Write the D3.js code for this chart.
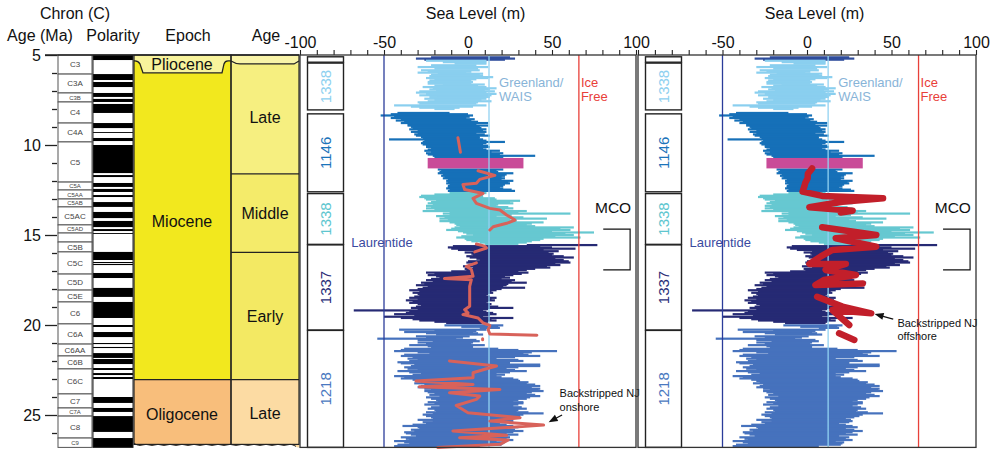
<!DOCTYPE html>
<html>
<head>
<meta charset="utf-8">
<script src="https://cdn.jsdelivr.net/npm/d3@7"></script>
<style>
  body { margin: 0; background: #fff; }
  svg { font-family: "Liberation Sans", Arial, sans-serif; }
</style>
</head>
<body>
<svg id="chart" width="995" height="449"></svg>
<script>
// ---- data (ages in Ma, sea level in m) ----

const chrons = [
  ["C3", 5.0, 6.06], ["C3A", 6.06, 7.11], ["C3B", 7.11, 7.61], ["C4", 7.61, 8.78],
  ["C4A", 8.78, 9.83], ["C5", 9.83, 12.06], ["C5A", 12.06, 12.5], ["C5AA", 12.5, 13.0],
  ["C5AB", 13.0, 13.44], ["C5AC", 13.44, 14.44], ["C5AD", 14.44, 14.89], ["", 14.89, 15.39],
  ["C5B", 15.39, 15.94], ["C5C", 15.94, 17.17], ["C5D", 17.17, 18.06], ["C5E", 18.06, 18.72],
  ["C6", 18.72, 19.94], ["C6A", 19.94, 21.06], ["C6AA", 21.06, 21.72], ["C6B", 21.72, 22.44],
  ["C6C", 22.44, 23.83], ["C7", 23.83, 24.61], ["C7A", 24.61, 25.06], ["C8", 25.06, 26.28],
  ["C9", 26.28, 26.8]
];

// normal polarity intervals (black)
const normalPolarity = [
  [5.0, 5.28], [6.06, 6.39], [6.5, 6.78], [7.11, 7.33], [7.44, 7.61], [7.72, 8.22],
  [8.78, 9.06], [9.28, 9.33], [9.61, 9.78], [10.0, 11.56], [11.67, 11.78], [12.11, 12.33],
  [12.44, 12.61], [12.78, 12.89], [13.17, 13.44], [13.72, 14.06], [14.22, 14.56],
  [14.67, 14.78], [14.89, 14.94], [15.94, 16.39], [16.5, 16.56], [16.61, 16.67],
  [17.11, 17.39], [17.94, 18.44], [18.72, 19.61], [20.0, 20.11], [20.39, 20.67],
  [21.0, 21.06], [21.22, 21.28], [21.56, 21.83], [21.89, 22.17], [22.39, 22.5],
  [22.67, 22.78], [22.89, 23.0], [24.0, 24.33], [24.61, 24.83], [25.06, 25.94], [26.28, 26.8]
];

const epochs = [
  { name: "Miocene", from: 5.33, to: 23.03, color: "#f2e81e" },
  { name: "Oligocene", from: 23.03, to: 26.8, color: "#f8be7b" }
];

const stages = [
  { name: "Late", from: 5.33, to: 11.6, color: "#f6ef80" },
  { name: "Middle", from: 11.6, to: 15.97, color: "#f4eb6a" },
  { name: "Early", from: 15.97, to: 23.03, color: "#f3e963" },
  { name: "Late", from: 23.03, to: 26.8, color: "#fcdba3" }
];

const sites = [
  { name: "", from: 5.1, to: 5.4, color: "#333" },
  { name: "1338", from: 5.45, to: 8.05, color: "#8ed0f0" },
  { name: "1146", from: 8.27, to: 12.6, color: "#1b74ba" },
  { name: "1338", from: 12.7, to: 15.52, color: "#5ec6cf" },
  { name: "1337", from: 15.55, to: 20.28, color: "#2b2f79" },
  { name: "1218", from: 20.3, to: 26.8, color: "#4a78c0" }
];

// sea level ranges: [age, low, high]
const topBars = [[5.13, -22, 25], [5.2, -31, 28], [5.26, -26, 22]];

const site1338a = [
  [5.32, -25, 11], [5.4, -15, 11], [5.48, -8, 11], [5.57, -22, 5], [5.67, -30, 12],
  [5.76, -20, 6], [5.85, -28, 7], [5.93, -24, 2], [5.98, -30, -1], [6.04, -18, 9],
  [6.09, -22, 7], [6.17, -23, 9], [6.23, -18, 15], [6.28, -25, 12], [6.35, -20, 5],
  [6.41, -23, 2], [6.5, -24, 3], [6.59, -24, 2], [6.64, -15, 10], [6.69, -20, 6],
  [6.78, -27, 11], [6.85, -21, 17], [6.91, -23, 13], [6.97, -19, 10], [7.02, -29, 16],
  [7.09, -31, 11], [7.16, -25, 17], [7.24, -29, 14], [7.33, -23, 13], [7.38, -18, 10],
  [7.43, -26, 11], [7.5, -20, 8], [7.57, -24, 14], [7.63, -30, 6], [7.7, -29, 5],
  [7.8, -44, 11], [7.87, -34, 3], [7.93, -29, -5], [8.0, -20, -8]
];

const site1146 = [
  [8.22, -42, -11], [8.29, -46, 0], [8.36, -52, 3], [8.43, -44, 1], [8.5, -46, -1],
  [8.57, -40, 4], [8.64, -43, 2], [8.71, -38, 6], [8.78, -40, 12], [8.85, -36, 5],
  [8.92, -36, 12], [8.99, -34, 7], [9.06, -33, 8], [9.13, -35, 11], [9.2, -30, 9],
  [9.27, -34, 11], [9.34, -30, 5], [9.41, -32, 10], [9.48, -31, 13], [9.55, -28, 7],
  [9.62, -27, 7], [9.69, -47, 9], [9.76, -26, 11], [9.83, -27, 22], [9.9, -28, 11],
  [9.97, -27, 9], [10.04, -25, 12], [10.11, -25, 13], [10.18, -22, 9], [10.25, -24, 11],
  [10.32, -26, 19], [10.39, -22, 14], [10.46, -25, 21], [10.53, -24, 19], [10.6, -21, 40],
  [10.67, -20, 21], [11.36, -18, 21], [11.43, -16, 17], [11.5, -17, 18], [11.57, -18, 27],
  [11.64, -15, 23], [11.71, -16, 22], [11.78, -14, 20], [11.85, -15, 22], [11.92, -12, 20],
  [11.99, -13, 27], [12.06, -12, 24], [12.13, -13, 25], [12.2, -11, 22], [12.27, -12, 21],
  [12.34, -12, 19], [12.41, -13, 21], [12.48, -11, 26], [12.55, -12, 28]
];

const site1338b = [
  [12.67, -11, 11], [12.75, -20, 7], [12.82, -28, 9], [12.89, -29, 9], [12.96, -26, 16],
  [13.03, -25, 17], [13.1, -19, 31], [13.17, -22, 25], [13.24, -24, 27], [13.31, -21, 18],
  [13.38, -25, 17], [13.45, -22, 24], [13.52, -25, 27], [13.6, -20, 22], [13.67, -27, 35],
  [13.74, -11, 30], [13.81, -15, 61], [13.88, -11, 26], [13.95, -19, 17], [14.02, -14, 33],
  [14.09, -17, 47], [14.16, -12, 25], [14.23, -17, 29], [14.3, -11, 45], [14.37, -8, 38],
  [14.44, -7, 35], [14.51, -5, 40], [14.58, -8, 63], [14.65, -10, 55], [14.72, -13, 61],
  [14.79, -6, 50], [14.86, -3, 75], [14.93, -1, 58], [15.0, 3, 63], [15.07, -4, 52],
  [15.14, -7, 67], [15.21, -2, 45], [15.28, -1, 43], [15.35, 2, 38], [15.42, 7, 35],
  [15.49, 10, 30]
];

const site1337 = [
  [15.56, 35, 77], [15.62, -9, 43], [15.69, -12, 50], [15.76, -10, 64], [15.83, -6, 45],
  [15.9, 3, 54], [15.97, -2, 48], [16.04, 2, 51], [16.11, 3, 50], [16.18, -1, 57],
  [16.25, 1, 63], [16.32, 5, 52], [16.39, 7, 57], [16.46, 0, 60], [16.53, -1, 61],
  [16.6, 3, 52], [16.67, 3, 55], [16.74, -3, 47], [16.81, 3, 49], [16.88, -2, 40],
  [16.95, -1, 35], [17.02, -10, 30], [17.09, -25, 36], [17.16, -20, 32], [17.23, -24, 27],
  [17.3, -19, 22], [17.37, -17, 25], [17.44, -22, 20], [17.51, -25, 28], [17.58, -21, 26],
  [17.65, -28, 35], [17.72, -26, 24], [17.79, -31, 23], [17.86, -24, 21], [17.93, -27, 34],
  [18.0, -30, 20], [18.07, -35, 17], [18.14, -29, 14], [18.21, -33, 15], [18.28, -30, 12],
  [18.35, -29, 11], [18.42, -32, 13], [18.49, -35, 17], [18.56, -30, 14], [18.63, -37, 16],
  [18.7, -33, 12], [18.77, -35, 11], [18.84, -30, 14], [18.91, -28, 13], [18.98, -31, 18],
  [19.05, -34, 27], [19.12, -30, 12], [19.19, -68, 9], [19.26, -35, 11], [19.33, -37, 15],
  [19.4, -44, 17], [19.47, -32, 13], [19.54, -50, 9], [19.61, -40, 27], [19.68, -33, 14],
  [19.75, -29, 17], [19.82, -20, 12], [19.89, -13, 11]
];

const site1218 = [
  [20.02, -14, 21], [20.1, -4, 18], [20.16, 7, 19], [20.26, -41, 11], [20.33, -20, 5],
  [20.39, -38, 3], [20.46, -25, 6], [20.53, -19, 9], [20.63, -31, 1], [20.7, -25, -3],
  [20.76, -54, -7], [20.83, -30, 5], [20.9, -21, 7], [20.97, -30, 3], [21.05, -25, 2],
  [21.12, -35, 10], [21.18, -24, 3], [21.26, -22, 3], [21.32, -38, 18], [21.39, -40, 30],
  [21.45, -44, 53], [21.52, -30, 38], [21.58, -23, 33], [21.65, -38, 36], [21.72, -40, 43],
  [21.79, -33, 28], [21.87, -36, 17], [21.94, -30, 30], [22.0, -35, 33], [22.07, -42, 25],
  [22.13, -40, 25], [22.2, -32, 43], [22.28, -34, 43], [22.35, -38, 30], [22.43, -36, 23],
  [22.5, -30, 28], [22.56, -42, 35], [22.63, -35, 25], [22.69, -28, 17], [22.76, -33, 22],
  [22.84, -44, 17], [22.9, -38, 20], [22.97, -40, 27], [23.04, -33, 30], [23.11, -30, 31],
  [23.18, -28, 36], [23.24, -32, 35], [23.31, -26, 40], [23.39, -28, 43], [23.46, -30, 38],
  [23.54, -26, 43], [23.6, -22, 42], [23.67, -26, 45], [23.74, -24, 38], [23.8, -20, 35],
  [23.88, -23, 40], [23.95, -17, 43], [24.02, -25, 37], [24.1, -22, 35], [24.16, -19, 30],
  [24.22, -18, 27], [24.29, -24, 33], [24.35, -20, 33], [24.42, -26, 30], [24.5, -17, 27],
  [24.57, -22, 32], [24.65, -24, 35], [24.72, -20, 30], [24.78, -19, 29], [24.85, -25, 36],
  [24.91, -21, 45], [24.98, -27, 33], [25.06, -25, 31], [25.13, -22, 28], [25.2, -21, 23],
  [25.27, -30, 26], [25.34, -21, 27], [25.4, -27, 25], [25.47, -25, 19], [25.54, -33, 23],
  [25.61, -39, 27], [25.68, -30, 30], [25.76, -29, 23], [25.82, -34, 28], [25.89, -32, 33],
  [25.96, -38, 27], [26.02, -37, 23], [26.09, -34, 30], [26.17, -31, 19], [26.24, -40, 25],
  [26.32, -37, 23], [26.39, -35, 27], [26.45, -44, 17], [26.52, -38, 22], [26.58, -35, 21],
  [26.65, -42, 20], [26.73, -44, 7]
];

const barSeries = [
  { data: topBars, color: "#2f4d9c" },
  { data: site1338a, color: "#8acfef" },
  { data: site1146, color: "#1670b8" },
  { data: site1338b, color: "#66c8d1" },
  { data: site1337, color: "#262a74" },
  { data: site1218, color: "#4672bd" }
];

// magenta band [ageFrom, ageTo, low, high]
const magentaBand = [10.72, 11.3, -24, 33];

// NJ records: [age, sea level]; null marks a gap
const njOnshore = [
  [9.6, -6], [10.4, -4.5], [10.5, null],
  [11.43, 6], [11.69, 16], [11.91, 7], [12.13, 5], [12.19, -3], [12.47, -2], [12.69, 9],
  [12.97, 3], [13.24, 5], [13.52, 13], [13.61, 19], [13.89, 23], [14.17, 28], [14.35, 23],
  [14.54, 15], [14.72, 13], [14.8, null],
  [15.5, 5], [15.62, 10], [15.72, 11], [15.94, 4], [16.2, null],
  [16.55, 5], [16.74, -1], [16.92, 2], [17.29, 3], [17.42, -14], [17.48, 2], [17.85, 1],
  [18.96, 1], [19.15, -2], [19.33, 0], [19.42, -3], [19.61, 6], [19.89, 9], [20.02, 13],
  [20.26, 12], [20.5, 13], [20.57, 41], [20.7, null],
  [20.76, 8.7], [20.82, 8.7], [21.0, null],
  [22.0, -11], [22.28, 17], [22.43, 11], [22.65, 3], [22.93, 3], [23.11, -31], [23.3, 3],
  [23.43, -29], [23.58, 19], [23.76, -11], [23.95, 7], [24.13, 5], [24.47, -7], [24.87, 0],
  [25.15, 31], [25.34, 13], [25.56, 45], [25.89, -9], [26.13, 23], [26.26, -5], [26.39, 24],
  [26.63, 19], [26.8, -18]
];

const njOffshore = [
  [11.3, 3], [11.6, 0.5], [11.85, 0.4], [12.1, -1], [12.31, -1.6], [12.59, -2.6],
  [12.83, 9], [12.96, 45], [13.15, 21], [13.46, 1.4], [13.65, 27], [13.75, 20], [13.9, null],
  [14.57, 9], [15.0, 41], [15.18, 17], [15.65, 41], [15.83, 15], [16.2, 8], [16.61, 1.4],
  [16.61, 23], [16.94, 11], [17.22, 29], [17.5, 10], [17.78, 5], [17.69, 33], [17.9, null],
  [18.43, 6], [18.98, 21], [19.35, 38], [19.17, 15], [20.0, 25], [20.1, null],
  [20.46, 19], [20.83, 28]
];

const refLines = [
  { value: -50, color: "#2b3c9a" },
  { value: 12.5, color: "#92d2f1" },
  { value: 66, color: "#e8403a" }
];

// ---- layout ----
const svg = d3.select("#chart");
const y = d3.scaleLinear().domain([5, 26.8]).range([55, 447.4]);
const yTop = 55, yBot = 447.4;
const col = { chron: [58, 92], pol: [93, 133], epoch: [134, 231], stage: [231, 299] };

// header text
const header = svg.append("g").style("font-size", "16px").attr("fill", "#111");
header.append("text").attr("x", 75).attr("y", 19).attr("text-anchor", "middle").text("Chron (C)");
header.append("text").attr("x", 40).attr("y", 41).attr("text-anchor", "middle").text("Age (Ma)");
header.append("text").attr("x", 113).attr("y", 41).attr("text-anchor", "middle").text("Polarity");
header.append("text").attr("x", 188).attr("y", 41).attr("text-anchor", "middle").text("Epoch");
header.append("text").attr("x", 266).attr("y", 41).attr("text-anchor", "middle").text("Age");

// age axis
const ageMajor = svg.append("g").attr("transform", "translate(57,0)")
  .call(d3.axisLeft(y).tickValues([5, 10, 15, 20, 25]).tickSize(12).tickPadding(4).tickFormat(d => String(d)));
ageMajor.select(".domain").remove();
ageMajor.selectAll("text").style("font-size", "16px").style("font-family", "Liberation Sans, Arial").attr("fill", "#111");
ageMajor.selectAll("line").attr("stroke", "#222").attr("stroke-width", 1.3);
const ageMinor = svg.append("g").attr("transform", "translate(57,0)")
  .call(d3.axisLeft(y).tickValues(d3.range(6, 27).filter(d => d % 5 !== 0)).tickSize(5).tickFormat(""));
ageMinor.select(".domain").remove();
ageMinor.selectAll("line").attr("stroke", "#222").attr("stroke-width", 1.3);

// chron column
const chronG = svg.append("g");
chronG.selectAll("rect").data(chrons).join("rect")
  .attr("x", col.chron[0]).attr("width", col.chron[1] - col.chron[0])
  .attr("y", d => y(d[1])).attr("height", d => y(d[2]) - y(d[1]))
  .attr("fill", "#fff").attr("stroke", "#555").attr("stroke-width", 1);
chronG.selectAll("text").data(chrons).join("text")
  .attr("x", (col.chron[0] + col.chron[1]) / 2)
  .attr("y", d => (y(d[1]) + y(d[2])) / 2)
  .attr("dy", "0.35em").attr("text-anchor", "middle")
  .style("font-size", d => (y(d[2]) - y(d[1]) < 9.5 ? "6px" : "8px"))
  .attr("fill", "#444").text(d => d[0]);

// polarity column
const polG = svg.append("g");
polG.append("rect").attr("x", col.pol[0]).attr("y", yTop).attr("width", col.pol[1] - col.pol[0])
  .attr("height", yBot - yTop).attr("fill", "#fff");
polG.selectAll("rect.n").data(normalPolarity).join("rect").attr("class", "n")
  .attr("x", col.pol[0]).attr("width", col.pol[1] - col.pol[0])
  .attr("y", d => y(d[0])).attr("height", d => y(d[1]) - y(d[0])).attr("fill", "#000");
polG.append("rect").attr("x", col.pol[0]).attr("y", yTop).attr("width", col.pol[1] - col.pol[0])
  .attr("height", yBot - yTop).attr("fill", "none").attr("stroke", "#222");

// epoch column
const epG = svg.append("g");
epG.selectAll("rect").data(epochs).join("rect")
  .attr("x", col.epoch[0]).attr("width", col.epoch[1] - col.epoch[0])
  .attr("y", d => (d.name === "Miocene" ? yTop : y(d.from))).attr("height", d => y(d.to) - (d.name === "Miocene" ? yTop : y(d.from)))
  .attr("fill", d => d.color);
const pb = y(5.33), pt = pb + 12;
epG.append("path")
  .attr("d", `M${col.epoch[0]},${yTop}H${col.epoch[1]}V${pb}H${col.epoch[1] - 3}Q${col.epoch[1] - 6},${pb} ${col.epoch[1] - 7},${pb + 3}L${col.epoch[1] - 9},${pt}H${col.epoch[0] + 9}L${col.epoch[0] + 6},${pb + 3}Q${col.epoch[0] + 4},${pb} ${col.epoch[0] + 1},${pb}H${col.epoch[0]}Z`)
  .attr("fill", "#f8f39c");
epG.append("path")
  .attr("d", `M${col.epoch[0]},${pb}H${col.epoch[0] + 1}Q${col.epoch[0] + 4},${pb} ${col.epoch[0] + 6},${pb + 3}L${col.epoch[0] + 9},${pt}H${col.epoch[1] - 9}L${col.epoch[1] - 7},${pb + 3}Q${col.epoch[1] - 6},${pb} ${col.epoch[1] - 3},${pb}H${col.epoch[1]}`)
  .attr("fill", "none").attr("stroke", "#222").attr("stroke-width", 1.3);
epG.append("line").attr("x1", col.epoch[0]).attr("x2", col.epoch[1])
  .attr("y1", y(23.03)).attr("y2", y(23.03)).attr("stroke", "#222").attr("stroke-width", 1.2);
epG.append("text").attr("x", 182).attr("y", pb + 9).attr("text-anchor", "middle")
  .style("font-size", "16px").attr("fill", "#111").text("Pliocene");
epG.selectAll("text.lab").data(epochs).join("text").attr("class", "lab")
  .attr("x", 182).attr("y", d => (d.name === "Miocene" ? y(14.2) + 6 : (y(d.from) + y(d.to)) / 2 + 7))
  .attr("text-anchor", "middle").style("font-size", "16px").attr("fill", "#111").text(d => d.name);

// stage column
const stG = svg.append("g");
stG.append("rect").attr("x", col.stage[0]).attr("y", yTop).attr("width", col.stage[1] - col.stage[0])
  .attr("height", y(5.33) + 4 - yTop).attr("fill", "#f9f4a8");
stG.selectAll("rect.s").data(stages).join("rect").attr("class", "s")
  .attr("x", col.stage[0]).attr("width", col.stage[1] - col.stage[0])
  .attr("y", d => (d.from === 5.33 ? pb + 3 : y(d.from))).attr("height", d => y(d.to) - (d.from === 5.33 ? pb + 3 : y(d.from)))
  .attr("fill", d => d.color);
stG.append("path")
  .attr("d", `M${col.stage[0]},${pb}Q${col.stage[0] + 5},${pb + 3} ${col.stage[0] + 9},${pb + 3}H${col.stage[1] - 5}L${col.stage[1]},${pb}`)
  .attr("fill", "none").attr("stroke", "#222").attr("stroke-width", 1.3);
stG.selectAll("line.b").data(stages.slice(1)).join("line").attr("class", "b")
  .attr("x1", col.stage[0]).attr("x2", col.stage[1]).attr("y1", d => y(d.from)).attr("y2", d => y(d.from))
  .attr("stroke", "#222").attr("stroke-width", 1.2);
stG.selectAll("text").data(stages).join("text")
  .attr("x", (col.stage[0] + col.stage[1]) / 2).attr("y", d => (y(d.from) + y(d.to)) / 2 + 6)
  .attr("text-anchor", "middle").style("font-size", "16px").attr("fill", "#111").text(d => d.name);

// wavy break at the bottom of epoch + stage columns
const wave = d3.range(col.epoch[0], col.stage[1] + 1, 6).map((xx, i) => [xx, yBot - 3 + (i % 2 ? 2 : -1)]);
svg.append("path")
  .attr("d", d3.line().curve(d3.curveBasis)(wave) + `L${col.stage[1]},${yBot + 2}L${col.epoch[0]},${yBot + 2}Z`)
  .attr("fill", "#fff");
svg.append("path").attr("d", d3.line().curve(d3.curveBasis)(wave))
  .attr("fill", "none").attr("stroke", "#222").attr("stroke-width", 1);

// column borders
[col.epoch, col.stage].forEach(c => {
  svg.append("rect").attr("x", c[0]).attr("y", yTop).attr("width", c[1] - c[0]).attr("height", yBot - 3 - yTop)
    .attr("fill", "none").attr("stroke", "#222").attr("stroke-width", 1.2);
});
svg.append("line").attr("x1", 45).attr("x2", col.stage[1]).attr("y1", yTop).attr("y2", yTop)
  .attr("stroke", "#222").attr("stroke-width", 1.3);

// ---- sea level panels ----
function drawPanel(x0, x1, nj, njStyle, showMinLabel, annot) {
  const x = d3.scaleLinear().domain([-100, 100]).range([x0, x1]);
  const g = svg.append("g");

  g.append("text").attr("x", x(4.5)).attr("y", 19).attr("text-anchor", "middle")
    .style("font-size", "16px").attr("fill", "#111").text("Sea Level (m)");

  const ax = g.append("g").attr("transform", `translate(0,${yTop})`)
    .call(d3.axisTop(x).tickValues(d3.range(-100, 101, 10)).tickSize(5).tickPadding(3)
      .tickFormat(d => (d % 50 === 0 && (showMinLabel || d > -100) ? String(d) : "")));
  ax.select(".domain").remove();
  ax.selectAll("line").attr("stroke", "#222").attr("stroke-width", 1.1);
  ax.selectAll("text").style("font-size", "16px").style("font-family", "Liberation Sans, Arial")
    .attr("fill", "#111").attr("dy", "0.05em");

  // bars
  barSeries.forEach(s => {
    g.append("g").selectAll("rect").data(s.data).join("rect")
      .attr("x", d => x(d[1])).attr("width", d => x(d[2]) - x(d[1]))
      .attr("y", d => y(d[0]) - 1.1).attr("height", 2.2)
      .attr("fill", s.color);
  });

  g.append("rect")
    .attr("x", x(magentaBand[2])).attr("width", x(magentaBand[3]) - x(magentaBand[2]))
    .attr("y", y(magentaBand[0])).attr("height", y(magentaBand[1]) - y(magentaBand[0]))
    .attr("fill", "#c94b98");

  // reference lines
  g.selectAll("line.ref").data(refLines).join("line").attr("class", "ref")
    .attr("x1", d => x(d.value)).attr("x2", d => x(d.value)).attr("y1", yTop).attr("y2", yBot)
    .attr("stroke", d => d.color).attr("stroke-width", 1.3);

  // NJ curve
  const line = d3.line().defined(d => d[1] !== null).x(d => x(d[1])).y(d => y(d[0]));
  g.append("path").datum(nj).attr("d", line)
    .attr("fill", "none").attr("stroke", njStyle.color).attr("stroke-width", njStyle.width)
    .attr("stroke-linejoin", "round").attr("stroke-linecap", "round");

  // site column
  const sx = x0 + 7.5, sw = 36;
  g.selectAll("rect.site").data(sites).join("rect").attr("class", "site")
    .attr("x", sx).attr("width", sw).attr("y", d => y(d.from)).attr("height", d => y(d.to) - y(d.from))
    .attr("fill", "#fff").attr("stroke", "#222").attr("stroke-width", 1.4);
  g.selectAll("text.site").data(sites.filter(d => d.name)).join("text").attr("class", "site")
    .attr("transform", d => `translate(${sx + sw / 2 + 5.5},${(y(d.from) + y(d.to)) / 2}) rotate(-90)`)
    .attr("text-anchor", "middle").style("font-size", "15px").attr("fill", d => d.color).text(d => d.name);

  // labels
  const lab = g.append("g").style("font-size", "13px");
  lab.append("text").attr("x", x(18.5)).attr("y", 87).attr("fill", "#88b4d8").text("Greenland/");
  lab.append("text").attr("x", x(18.5)).attr("y", 101).attr("fill", "#88b4d8").text("WAIS");
  lab.append("text").attr("x", x(66) + 2).attr("y", 87).attr("fill", "#e8403a").text("Ice");
  lab.append("text").attr("x", x(66) + 2).attr("y", 101).attr("fill", "#e8403a").text("Free");
  lab.append("text").attr("x", x(-69.5)).attr("y", 247).attr("fill", "#3a4a9f").text("Laurentide");
  g.append("text").attr("x", x(75.6)).attr("y", 213).style("font-size", "15.5px").attr("fill", "#111").text("MCO");
  g.append("path")
    .attr("d", `M${x(80.5)},${y(14.67)}H${x(96.5)}V${y(16.94)}H${x(80.5)}`)
    .attr("fill", "none").attr("stroke", "#111").attr("stroke-width", 1.2);

  // annotation with arrow
  const an = g.append("g").style("font-size", "11px").attr("fill", "#111");
  an.append("text").attr("x", x(annot.m)).attr("y", y(annot.age)).text("Backstripped NJ");
  an.append("text").attr("x", x(annot.m)).attr("y", y(annot.age) + 13.5).text(annot.word);
  const [ax1, ay1, ax2, ay2] = [x(annot.tail[1]), y(annot.tail[0]), x(annot.head[1]), y(annot.head[0])];
  const ang = Math.atan2(ay2 - ay1, ax2 - ax1);
  g.append("line").attr("x1", ax1).attr("y1", ay1)
    .attr("x2", ax2 - 5 * Math.cos(ang)).attr("y2", ay2 - 5 * Math.sin(ang))
    .attr("stroke", "#111").attr("stroke-width", 1.2);
  const hx = ax2, hy = ay2, L = 9, W = 3.5;
  const bx = hx - L * Math.cos(ang), by = hy - L * Math.sin(ang);
  g.append("path")
    .attr("d", `M${hx},${hy}L${bx + W * Math.sin(ang)},${by - W * Math.cos(ang)}L${bx - W * Math.sin(ang)},${by + W * Math.cos(ang)}Z`)
    .attr("fill", "#111");

  // frame
  g.append("rect").attr("x", x0).attr("y", yTop).attr("width", x1 - x0).attr("height", yBot - yTop)
    .attr("fill", "none").attr("stroke", "#333").attr("stroke-width", 1.3);
}

drawPanel(300, 636, njOnshore, { color: "#d8625a", width: 3 }, true,
  { m: 54.5, age: 24.0, word: "onshore", tail: [25.0, 56], head: [25.4, 48] });
drawPanel(638, 976, njOffshore, { color: "#c21f2a", width: 6.5 }, false,
  { m: 53.5, age: 20.11, word: "offshore", tail: [19.67, 51], head: [19.39, 40] });
</script>
</body>
</html>
